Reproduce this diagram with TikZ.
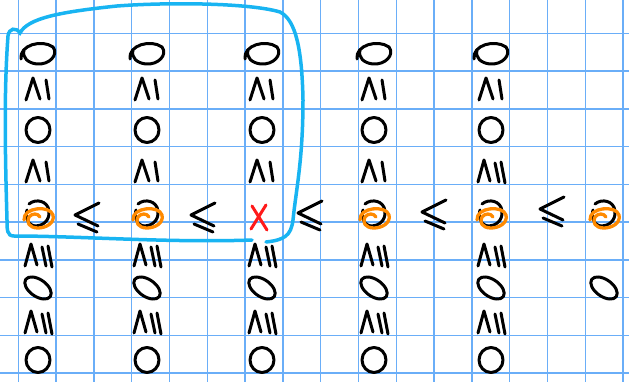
\documentclass[tikz,border=0pt]{standalone}
\usetikzlibrary{calc}
\definecolor{gridblue}{HTML}{6AAEF8}
\definecolor{penblue}{HTML}{18B4F2}
\definecolor{penorange}{HTML}{FF8A00}
\definecolor{penred}{HTML}{FF1A1A}

\tikzset{
  ink/.style={line width=3pt,line cap=round,line join=round},
  zeroflat/.pic={\draw[ink] (-17,6) .. controls (-19,-8) and (4,-14) .. (15,-6) .. controls (21,2) and (11,12) .. (-1,11) .. controls (-10,10) and (-16,5) .. (-14,-3);},
  zeroround/.pic={\draw[ink] (0,0) ellipse[x radius=12,y radius=12.5];},
  zeroslant/.pic={\draw[ink,rotate=-35] (0,0) ellipse[x radius=15,y radius=8.5];},
  geqone/.pic={\draw[ink] (-12,11) -- (-5,-11) -- (2,10); \draw[ink] (8,-9) -- (11,10);},
  geqtwo/.pic={\draw[ink] (-13,11) -- (-7,-11) -- (-1,10); \draw[ink] (4,-8) -- (8,11); \draw[ink] (10,-9) -- (14,12);},
  leqsign/.pic={\draw[ink] (12,-14) -- (-12,-2) -- (11,9); \draw[ink] (-9,7) -- (10,15);},
  zerocircled/.pic={\draw[ink] (-9,-9) .. controls (-2,-15) and (10,-12) .. (11,-2) .. controls (12,8) and (4,13) .. (-2,13) .. controls (-10,13) and (-13,4) .. (-11,-3);
    \draw[ink,line width=3.3pt,penorange] (-14,7) .. controls (-15,-6) and (12,-8) .. (15,2) .. controls (17,10) and (8,15) .. (0,15) .. controls (-9,15) and (-12,9) .. (-9,4) .. controls (-6,0) and (0,0) .. (2,4);},
}

\begin{document}
\begin{tikzpicture}[x=1pt,y=-1pt]
\useasboundingbox (0,0) rectangle (629,382);
\fill[white] (0,0) rectangle (629,382);
% squared paper
\foreach \i in {0,...,16} \draw[gridblue,line width=1.5pt] (18.3+37.8*\i,0) -- (18.3+37.8*\i,382);
\foreach \j in {0,...,9} \draw[gridblue,line width=1.5pt] (0,33.3+37.75*\j) -- (629,33.3+37.75*\j);
% the columns
\foreach \cx/\name in {38/a,147/b,262/c,374/d,491/e} {
  \coordinate (\name) at (\cx,0);
  \pic at (\cx,53) {zeroflat};
  \pic at (\cx,130) {zeroround};
  \pic at (\cx,255) {geqtwo};
  \pic at (\cx,288) {zeroslant};
  \pic at (\cx,322) {geqtwo};
  \pic at (\cx,360) {zeroround};
}
\foreach \name in {a,b,c,d,e} \pic at ($(\name)+(0,89)$) {geqone};
\foreach \name in {a,b,c,d} \pic at ($(\name)+(0,171)$) {geqone};
\pic at ($(e)+(0,171)$) {geqtwo};
% the middle row
\foreach \name in {a,b,d,e} \pic at ($(\name)+(0,213)$) {zerocircled};
\coordinate (f) at (604,0);
\pic at ($(f)+(0,213)$) {zerocircled};
\pic at ($(f)+(0,288)$) {zeroslant};
\coordinate (x) at (259,218);
\draw[ink,penred] ($(x)+(-7,-12)$) -- ($(x)+(8,12)$);
\draw[ink,penred] ($(x)+(7,-13)$) -- ($(x)+(-8,11)$);
\foreach \lx/\ly in {87/217,203/217,310/215,434/214,552/211} \pic at (\lx,\ly) {leqsign};
% blue loop
\draw[penblue,line width=3.5pt,line cap=round] (252,240) .. controls (170,243) and (80,236) .. (14,236) .. controls (7,236) and (7,230) .. (7,220) .. controls (5,150) and (4,90) .. (8,36) .. controls (9,28) and (16,27) .. (20,33) .. controls (28,18) and (60,12) .. (117,6) .. controls (170,2) and (250,3) .. (280,12) .. controls (296,20) and (302,50) .. (303,100) .. controls (303,160) and (296,190) .. (293,220) .. controls (291,236) and (284,240) .. (266,242);
\end{tikzpicture}
\end{document}
